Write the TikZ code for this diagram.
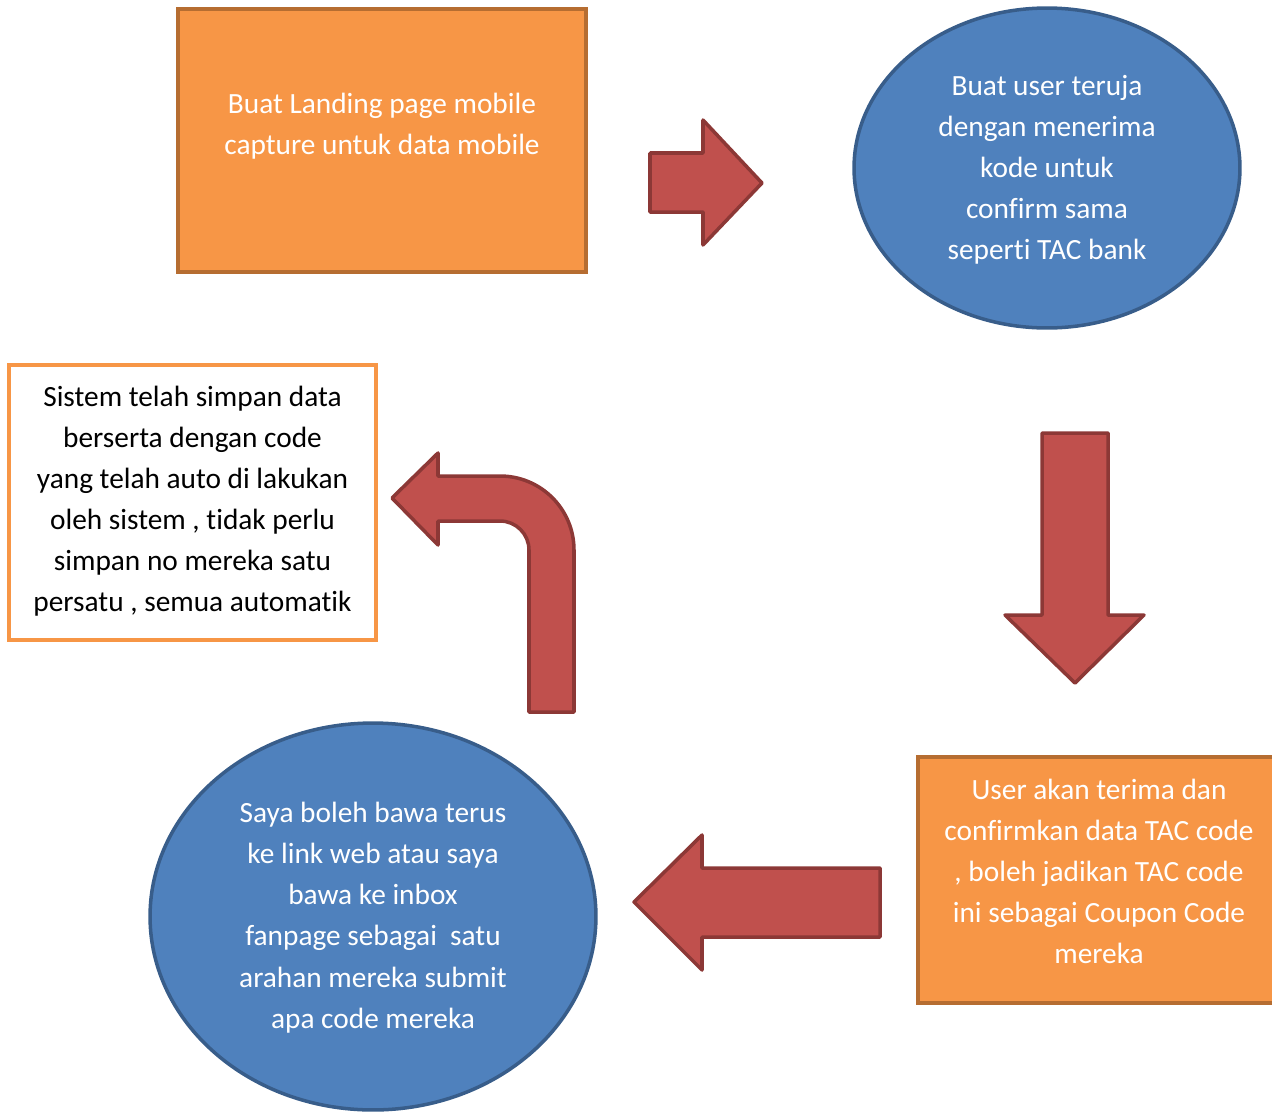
\documentclass[tikz,border=0pt]{standalone}
\usepackage{fontspec}
\setmainfont[RawFeature={-liga;-clig;-calt;-dlig}]{Carlito}
\usepackage{tikz}
\usetikzlibrary{shapes.geometric}

\begin{document}
\begin{tikzpicture}[x=0.02cm, y=-0.02cm,
  orangebox/.style={draw=c2, fill=c1, line width=2pt, rectangle, inner sep=0pt},
  whitebox/.style={draw=c1, fill=white, line width=2pt, rectangle, inner sep=0pt},
  bluecircle/.style={draw=c4, fill=c3, line width=2pt, ellipse, inner sep=0pt},
  blockarrow/.style={draw=c6, fill=c5, line width=2pt, line join=round},
  label/.style={align=center, text=white, inner sep=0pt, font=\fontsize{16.7}{23.4}\selectfont}]

\definecolor{c1}{rgb}{0.9686, 0.5882, 0.2745}
\definecolor{c2}{rgb}{0.7137, 0.4275, 0.1922}
\definecolor{c3}{rgb}{0.3098, 0.5059, 0.7412}
\definecolor{c4}{rgb}{0.2196, 0.3647, 0.5412}
\definecolor{c5}{rgb}{0.7529, 0.3137, 0.3020}
\definecolor{c6}{rgb}{0.5490, 0.2196, 0.2118}

\useasboundingbox (0,0) rectangle (1272,1113);

\node[orangebox, minimum width=8.16cm, minimum height=5.26cm] (landing) at (382,140.5) {};
\node[bluecircle, minimum width=7.72cm, minimum height=6.4cm] (teruja) at (1047,168) {};
\node[whitebox, minimum width=7.34cm, minimum height=5.5cm] (simpan) at (192.5,502.5) {};
\node[bluecircle, minimum width=8.92cm, minimum height=7.74cm] (bawa) at (373,916.5) {};
\node[orangebox, minimum width=7.44cm, minimum height=4.92cm] (terima) at (1104,880) {};

\filldraw[blockarrow] (650,153) -- (703,153) -- (703,120) -- (762,183) -- (703,245) -- (703,212) -- (650,212) -- cycle;
\filldraw[blockarrow] (1042,433) -- (1108,433) -- (1108,615) -- (1144,615) -- (1075,683) -- (1005,615) -- (1042,615) -- cycle;
\filldraw[blockarrow] (880,868) -- (702,868) -- (702,835) -- (634,902) -- (702,970) -- (702,937) -- (880,937) -- cycle;
\filldraw[blockarrow] (574,712) -- (574,550) arc (0:-90:74) -- (438,476) -- (438,453) -- (392,498) -- (438,545) -- (438,521) -- (500,521) arc (-90:0:29) -- (529,712) -- cycle;

\node[label] (landingtext) at (landing.center) [yshift=0.28cm] {Buat Landing page mobile\\capture untuk data mobile};
\node[label] (terujatext) at (teruja.center) [yshift=-0.03cm] {Buat user teruja\\dengan menerima\\kode untuk\\confirm sama\\seperti TAC bank};
\node[label, text=black] (simpantext) at (simpan.center) [yshift=0.03cm] {Sistem telah simpan data\\berserta dengan code\\yang telah auto di lakukan\\oleh sistem , tidak perlu\\simpan no mereka satu\\persatu , semua automatik};
\node[label] (bawatext) at (bawa.center) [yshift=-0.02cm] {Saya boleh bawa terus\\ke link web atau saya\\bawa ke inbox\\fanpage sebagai~ satu\\arahan mereka submit\\apa code mereka};
\node[label] (terimatext) at (1099,871.5) {User akan terima dan\\confirmkan data TAC code\\, boleh jadikan TAC code\\ini sebagai Coupon Code\\mereka};

\end{tikzpicture}
\end{document}
